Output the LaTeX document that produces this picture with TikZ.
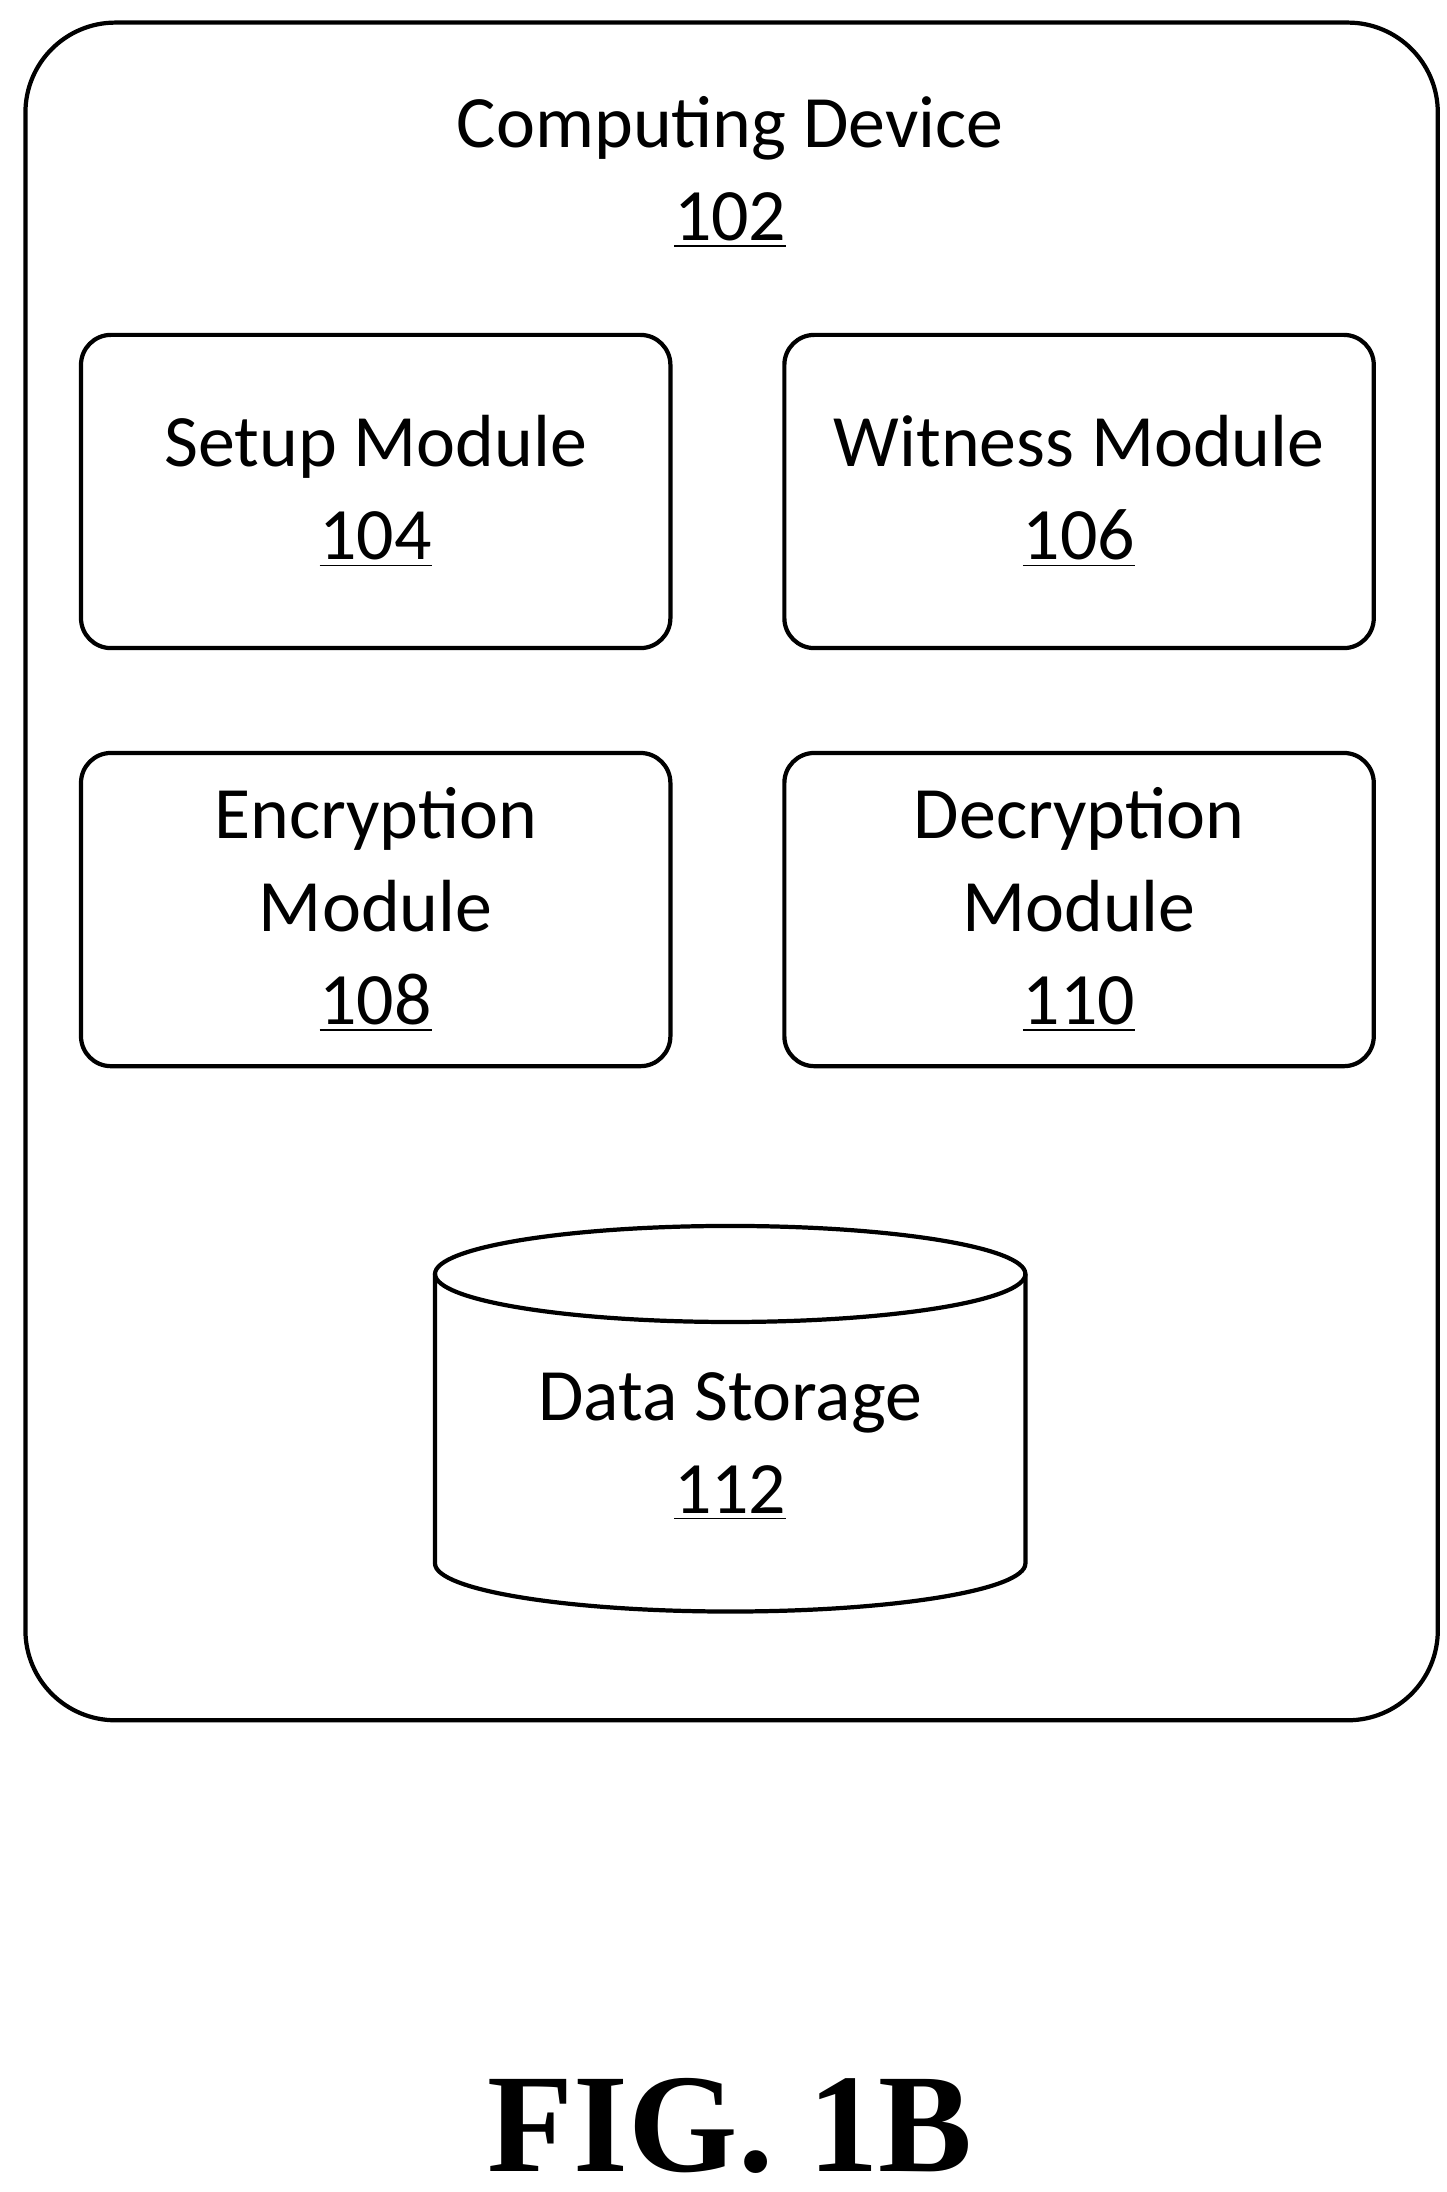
\documentclass[tikz,border=0pt]{standalone}
\usepackage{fontspec}
\setmainfont{Carlito}
\newfontfamily\figfont{Liberation Serif}
\tikzset{
  module/.style={draw, line width=1.2pt, rounded corners=0.3cm, minimum width=5.89cm, minimum height=3.13cm, align=center, font=\fontsize{21}{26.5}\selectfont},
  lbl/.style={align=center, font=\fontsize{21}{26.5}\selectfont}
}
\begin{document}
\begin{tikzpicture}[x=0.01412cm, y=-0.01412cm]
        \useasboundingbox (0,0) rectangle (1024,1552);
        % Outer device
        \draw[line width=1.2pt, rounded corners=0.9cm] (18,16) rectangle (1018,1218);
        \node[lbl] (dev) at (517,122) {Computing Device\\\underline{102}};

        % Modules
        \node[module] (setup) at (266,348) {Setup Module\\\underline{104}};
        \node[module] (witness) at (764,348) {Witness Module\\\underline{106}};
        \node[module] (enc) at (266,644) {Encryption\\Module\\\underline{108}};
        \node[module] (dec) at (764,644) {Decryption\\Module\\\underline{110}};

        % Data storage cylinder
        \draw[line width=1.2pt] (308,902) -- (308,1107) arc[start angle=180, end angle=0, x radius=209, y radius=34] -- (726,902);
        \draw[line width=1.2pt] (517,902) ellipse[x radius=209, y radius=34];
        \node[lbl] (store) at (517,1024) {Data Storage\\\underline{112}};

        \node[font=\figfont\bfseries\fontsize{40}{44}\selectfont] (fig) at (517,1505) {FIG. 1B};
\end{tikzpicture}
\end{document}
